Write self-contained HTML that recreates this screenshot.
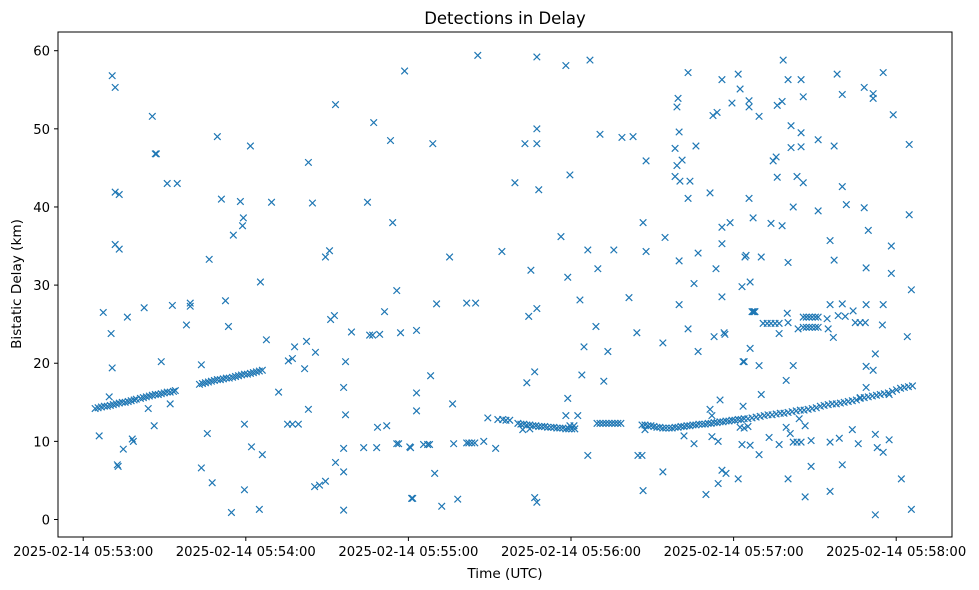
<!DOCTYPE html>
<html>
<head>
<meta charset="utf-8">
<style>
html,body{margin:0;padding:0;background:#fff;}
svg{display:block;font-family:"DejaVu Sans","Liberation Sans",sans-serif;}
</style>
</head>
<body>
<svg id="chart" width="979" height="590" viewBox="0 0 979 590" xmlns="http://www.w3.org/2000/svg">
<rect x="0" y="0" width="979" height="590" fill="#fff"/>
<text x="505" y="24" font-size="16.5" text-anchor="middle" fill="#000">Detections in Delay</text>
<text x="505" y="578" font-size="13.6" text-anchor="middle" fill="#000">Time (UTC)</text>
<text x="0" y="0" font-size="13.6" text-anchor="middle" fill="#000" transform="translate(21,284) rotate(-90)">Bistatic Delay (km)</text>
<g id="ticks"></g>
<g id="marks"></g>
<rect x="58" y="32" width="894" height="505" fill="none" stroke="#000" stroke-width="1"/>
</svg>
<script>
// seconds after 2025-02-14 05:53:00 UTC
const times = [
7.4,10.7,11.8,11.8,13.3,11.8,13.3,10.3,10.7,5.9,9.6,12.6,12.9,14.8,16.3,18.1,18.5,22.5,24.0,25.5,26.6,27.0,26.2,28.8,31.0,32.1,32.9,34.7,38.1,39.5,39.5,43.6,43.6,45.8,46.5,47.6,49.5,51.0,52.5,53.6,54.7,55.4,58.0,58.8,59.1,59.5,59.5,61.7,62.1,65.0,65.4,66.1,67.6,69.5,72.1,
4.4,5.5,6.7,7.8,8.9,10.0,11.1,12.2,13.3,14.4,15.5,16.6,17.7,18.8,19.6,21.1,22.2,23.3,24.4,25.5,26.6,27.7,28.8,29.9,31.0,32.1,33.3,34.0,
42.9,44.0,45.1,46.2,47.3,48.4,49.5,50.6,51.7,52.8,53.9,55.1,56.2,57.3,58.4,59.5,60.6,61.7,62.8,63.9,65.0,66.1,
118.6,93.1,107.2,113.4,83.1,84.6,104.9,114.2,90.9,89.4,115.7,111.2,91.3,92.7,99.0,105.7,106.8,109.4,117.1,82.4,78.0,85.7,75.7,77.2,96.8,81.7,96.1,83.1,96.8,75.4,77.2,79.4,108.6,112.0,96.1,103.5,108.3,115.7,116.4,120.5,93.1,96.1,85.4,87.2,89.4,121.2,96.1,
145.6,167.4,178.1,129.0,163.0,167.4,167.4,179.6,159.3,168.1,176.3,135.2,154.5,165.2,178.8,130.4,141.5,144.8,164.4,167.4,123.0,163.7,166.6,128.2,123.0,123.0,136.3,178.8,178.1,149.3,153.0,154.8,156.0,157.4,120.8,125.6,127.1,127.8,136.7,141.5,142.3,143.4,144.5,147.8,152.2,129.7,121.6,132.3,138.2,166.6,167.4,
160.4,161.5,162.6,163.7,164.8,165.9,167.0,168.1,169.2,170.3,171.4,172.6,173.7,174.8,175.9,177.0,178.1,179.2,180.3,181.4,162.2,164.8,
187.0,223.2,235.7,241.7,242.4,239.4,219.5,219.1,232.4,233.9,190.7,198.8,202.9,219.9,218.4,226.1,207.7,221.0,219.1,218.4,220.2,223.9,223.2,231.3,206.6,235.7,238.7,214.7,235.7,186.2,195.8,207.7,219.9,226.9,244.2,189.9,233.5,225.4,243.1,183.3,201.4,219.9,235.7,189.2,204.3,223.2,232.8,236.5,236.8,184.8,193.6,213.9,226.9,243.5,184.0,192.1,235.0,231.3,232.0,243.5,182.5,
189.6,190.7,191.8,192.9,194.0,195.1,196.2,197.3,198.4,179.6,181.1,
206.2,207.3,208.4,209.5,210.6,211.7,212.8,213.9,215.0,216.2,217.3,218.4,219.5,220.6,221.7,222.8,223.9,225.0,226.1,227.2,228.4,229.5,230.6,231.7,232.8,233.9,235.0,236.1,237.2,238.3,239.4,240.5,241.7,242.8,243.9,
207.3,243.1,186.2,204.7,206.2,225.4,234.3,221.7,232.0,213.9,235.7,237.2,241.7,234.3,206.6,229.8,
258.3,260.1,264.9,278.2,295.2,265.7,280.1,288.2,291.5,291.5,245.7,245.7,256.1,257.9,249.4,298.9,261.2,264.9,271.2,277.1,304.8,261.2,264.9,254.6,255.7,256.1,263.4,265.7,280.1,245.7,262.0,271.2,281.6,288.2,304.8,247.2,253.8,257.9,289.7,275.6,298.2,244.6,250.2,260.1,277.1,288.9,298.2,305.6,246.1,275.6,280.1,288.9,295.2,
246.8,247.2,247.6,247.9,259.8,265.7,266.8,267.9,269.0,270.2,271.2,265.7,266.8,267.9,269.0,270.2,271.2,274.5,278.6,281.2,284.1,250.9,252.4,253.8,255.3,256.8,256.8,260.1,263.8,274.9,276.8,284.9,286.7,288.6,294.9,304.1,246.1,243.9,249.4,262.0,292.3,288.9,291.5,259.4,250.2,288.9,286.7,297.4,
245.3,246.8,248.3,249.8,251.3,252.7,254.2,255.7,257.2,258.6,260.1,261.6,263.1,264.6,266.0,267.5,269.0,270.5,272.0,273.4,274.9,276.4,277.9,279.4,280.8,282.3,283.8,285.3,286.7,288.2,289.7,291.2,292.7,294.1,295.6,297.1,298.6,300.1,301.6,303.0,304.5,306.0,
242.4,243.9,245.3,264.2,266.4,259.4,260.9,253.1,256.8,262.0,263.4,264.9,268.6,275.6,279.0,283.8,286.0,292.3,293.0,295.2,297.4,246.1,249.4,268.6,280.1,260.1,301.9,266.4,275.6,292.3,305.6
];
// bistatic delay, km
const delays = [
26.5,56.8,55.3,41.9,41.6,35.2,34.6,23.8,19.4,10.7,15.7,7.0,6.8,9.0,25.9,10.3,10.0,27.1,14.2,51.6,46.8,46.8,12.0,20.2,43.0,14.8,27.4,43.0,24.9,27.7,27.3,19.8,6.6,11.0,33.3,4.7,49.0,41.0,28.0,24.7,0.9,36.4,40.7,37.6,38.6,12.2,3.8,47.8,9.3,1.3,30.4,8.3,23.0,40.6,16.3,
14.2,14.3,14.4,14.5,14.5,14.6,14.7,14.8,14.9,15.0,15.0,15.1,15.2,15.3,15.4,15.5,15.6,15.7,15.8,15.9,16.0,16.0,16.1,16.2,16.3,16.3,16.4,16.5,
17.3,17.4,17.5,17.6,17.7,17.8,17.9,17.9,18.0,18.1,18.1,18.2,18.3,18.4,18.5,18.6,18.6,18.7,18.8,18.9,19.0,19.1,
57.4,53.1,50.8,48.5,45.7,40.5,40.6,38.0,34.4,33.6,29.3,26.6,25.6,26.1,24.0,23.6,23.6,23.7,23.9,22.8,22.1,21.4,20.3,20.6,20.2,19.3,16.9,14.1,13.4,12.2,12.2,12.2,11.8,12.0,9.1,9.2,9.2,9.7,9.7,9.3,7.3,6.1,4.2,4.4,4.9,2.7,1.2,
59.4,59.2,58.1,48.1,48.1,48.1,50.0,44.1,43.1,42.2,36.2,33.6,34.3,31.9,31.0,27.6,27.7,27.7,26.0,27.0,24.2,17.5,18.9,18.4,16.2,13.9,14.8,15.5,13.3,13.0,12.8,12.8,12.7,12.7,9.2,9.6,9.6,9.6,9.7,9.8,9.8,9.8,9.8,10.0,9.1,5.9,2.7,1.7,2.6,2.8,2.2,
12.3,12.2,12.2,12.1,12.1,12.0,12.0,11.9,11.9,11.9,11.8,11.8,11.8,11.7,11.7,11.7,11.6,11.6,11.6,11.6,11.5,11.6,
58.8,57.2,56.3,57.0,55.1,53.3,53.9,52.8,51.7,52.1,49.3,48.9,49.0,49.6,47.5,47.8,45.9,46.0,45.3,43.9,43.3,43.3,41.1,41.8,38.0,37.4,38.0,36.1,35.3,34.5,34.5,34.3,33.1,34.1,33.6,32.1,32.1,30.2,29.8,28.1,28.4,27.5,28.5,24.7,23.9,24.4,23.4,23.9,23.7,22.1,21.5,22.6,21.5,20.2,18.5,17.7,15.3,14.1,13.3,14.5,13.3,
12.3,12.3,12.3,12.3,12.3,12.3,12.3,12.3,12.3,12.0,12.0,
12.1,12.1,12.0,12.0,11.9,11.8,11.8,11.7,11.7,11.7,11.7,11.8,11.8,11.9,11.9,12.0,12.0,12.1,12.1,12.2,12.2,12.2,12.3,12.3,12.4,12.4,12.5,12.5,12.6,12.6,12.7,12.7,12.8,12.8,12.9,
11.5,9.6,8.2,8.2,8.2,9.7,10.0,10.7,10.6,6.1,6.3,5.9,5.2,4.6,3.7,3.2,
58.8,56.3,56.3,57.0,57.2,54.1,54.4,55.3,54.5,53.9,53.6,52.8,53.0,53.5,51.6,51.8,50.4,49.5,48.6,47.8,48.0,47.6,47.7,45.9,46.4,43.8,43.9,43.1,42.6,41.1,40.0,39.5,40.3,39.9,39.0,38.6,37.9,37.6,37.0,35.7,35.0,33.8,33.6,32.9,33.2,32.2,31.5,29.4,30.4,27.5,27.6,27.5,27.5,
26.6,26.6,26.6,26.6,26.4,25.9,25.9,25.9,25.9,25.9,25.9,24.6,24.6,24.6,24.6,24.6,24.6,25.7,26.1,26.0,26.7,25.1,25.1,25.1,25.1,25.1,23.8,25.2,24.4,24.4,23.3,25.2,25.2,25.2,24.9,23.4,21.9,20.2,19.7,19.7,21.2,19.6,19.1,17.8,16.0,16.9,15.6,16.0,
12.9,13.0,13.1,13.2,13.3,13.4,13.4,13.5,13.6,13.6,13.7,13.8,13.9,14.0,14.0,14.1,14.2,14.3,14.5,14.6,14.7,14.8,14.8,14.9,15.0,15.1,15.2,15.3,15.5,15.6,15.7,15.8,15.9,16.0,16.1,16.2,16.4,16.6,16.8,16.9,17.0,17.1,
11.8,11.7,11.9,12.9,12.0,11.8,11.0,10.5,9.6,9.9,9.9,9.9,10.1,9.9,10.4,11.5,9.7,10.9,9.2,8.6,10.2,9.5,8.3,6.8,7.0,5.2,5.2,2.9,3.6,0.6,1.3
];
const xTickSeconds = [0,60,120,180,240,300];
const xTickLabels = ["2025-02-14 05:53:00","2025-02-14 05:54:00","2025-02-14 05:55:00","2025-02-14 05:56:00","2025-02-14 05:57:00","2025-02-14 05:58:00"];
const yTicks = [0,10,20,30,40,50,60];

const NS = "http://www.w3.org/2000/svg";
function xScale(s){ return 83.2 + s * (162.6/60); }
function yScale(v){ return 519.5 - v * ((519.5-50.7)/60); }

const tickG = document.getElementById('ticks');
xTickSeconds.forEach((s,i)=>{
  const x = xScale(s);
  const l = document.createElementNS(NS,'line');
  l.setAttribute('x1',x); l.setAttribute('x2',x); l.setAttribute('y1',537); l.setAttribute('y2',541);
  l.setAttribute('stroke','#000');
  
  
  tickG.appendChild(l);
  const t = document.createElementNS(NS,'text');
  t.setAttribute('x',x); t.setAttribute('y',556); t.setAttribute('font-size','13.2'); t.setAttribute('text-anchor','middle');
  t.textContent = xTickLabels[i];
  
  
  tickG.appendChild(t);
});
yTicks.forEach(v=>{
  const y = yScale(v);
  const l = document.createElementNS(NS,'line');
  l.setAttribute('x1',54); l.setAttribute('x2',58); l.setAttribute('y1',y); l.setAttribute('y2',y);
  l.setAttribute('stroke','#000');
  
  
  tickG.appendChild(l);
  const t = document.createElementNS(NS,'text');
  t.setAttribute('x',50); t.setAttribute('y',y+5); t.setAttribute('font-size','13.2'); t.setAttribute('text-anchor','end');
  t.textContent = String(v);
  
  
  tickG.appendChild(t);
});

const marks = document.getElementById('marks');
const n = Math.min(times.length, delays.length);
for(let i=0;i<n;i++){
  const cx = xScale(times[i]), cy = yScale(delays[i]), r = 3.3;
  const p = document.createElementNS(NS,'path');
  p.setAttribute('d',`M${cx-r},${cy-r}L${cx+r},${cy+r}M${cx-r},${cy+r}L${cx+r},${cy-r}`);
  p.setAttribute('stroke','#1f77b4');
  p.setAttribute('stroke-width','1.2');
  p.setAttribute('fill','none');
  
  
  marks.appendChild(p);
}
</script>
</body>
</html>
